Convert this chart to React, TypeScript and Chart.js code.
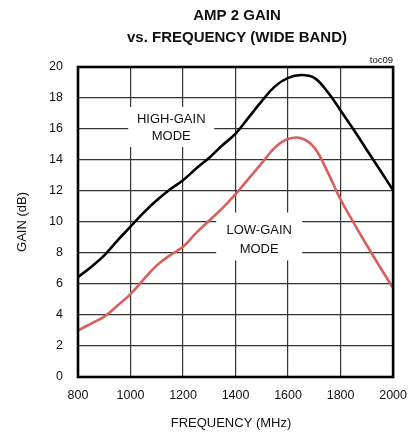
import React, { useEffect, useRef } from "react";
import { Chart, registerables } from "chart.js";

Chart.register(...registerables);

const freqMHz = [800, 850, 900, 950, 1000, 1050, 1100, 1150, 1200, 1250, 1300, 1350, 1400, 1450, 1500, 1550, 1600, 1650, 1700, 1750, 1800, 1850, 1900, 1950, 2000];
const highGainDb = [6.45, 7.1, 7.85, 8.8, 9.7, 10.6, 11.4, 12.1, 12.7, 13.45, 14.15, 14.95, 15.7, 16.75, 17.8, 18.75, 19.3, 19.48, 19.3, 18.4, 17.2, 15.95, 14.65, 13.35, 12.05];
const lowGainDb = [3.0, 3.45, 3.9, 4.6, 5.35, 6.3, 7.2, 7.85, 8.4, 9.3, 10.1, 10.9, 11.8, 12.8, 13.8, 14.8, 15.35, 15.4, 14.8, 13.25, 11.45, 9.95, 8.5, 7.1, 5.75];
const xTicks = [800, 1000, 1200, 1400, 1600, 1800, 2000];
const yTicks = [0, 2, 4, 6, 8, 10, 12, 14, 16, 18, 20];

const titleLines = ["AMP 2 GAIN", "vs. FREQUENCY (WIDE BAND)"];
const noteText = "toc09";
const highLabel = ["HIGH-GAIN", "MODE"];
const lowLabel = ["LOW-GAIN", "MODE"];
const xTitle = "FREQUENCY (MHz)";
const yTitle = "GAIN (dB)";

const FONT = "'Liberation Sans', Arial, sans-serif";

export default function App() {
  const ref = useRef<HTMLCanvasElement | null>(null);

  useEffect(() => {
    const canvas = ref.current;
    if (!canvas) return;

    const decor = {
      id: "decor",
      beforeDatasetsDraw(chart: any) {
        const { ctx, scales } = chart;
        const x = scales.x;
        const y = scales.y;
        ctx.save();
        ctx.fillStyle = "#ffffff";
        const hx = x.getPixelForValue(1155);
        const hy1 = y.getPixelForValue(16.65);
        const hy2 = y.getPixelForValue(15.55);
        ctx.fillRect(hx - 43, hy1 - 12, 86, hy2 - hy1 + 23);
        const lx = x.getPixelForValue(1490);
        const ly1 = y.getPixelForValue(9.45);
        const ly2 = y.getPixelForValue(8.23);
        ctx.fillRect(lx - 43, ly1 - 18, 86, ly2 - ly1 + 29);
        ctx.restore();
      },
      afterDraw(chart: any) {
        const { ctx, chartArea, scales } = chart;
        const x = scales.x;
        const y = scales.y;
        ctx.save();
        ctx.strokeStyle = "#000";
        ctx.lineWidth = 2.6;
        ctx.strokeRect(chartArea.left, chartArea.top, chartArea.right - chartArea.left, chartArea.bottom - chartArea.top);
        ctx.fillStyle = "#111";
        ctx.textAlign = "center";
        ctx.textBaseline = "middle";
        ctx.font = `bold 15px ${FONT}`;
        ctx.fillText(titleLines[0], 237, 16);
        ctx.fillText(titleLines[1], 237, 38);
        ctx.font = `9.5px ${FONT}`;
        ctx.textAlign = "right";
        ctx.fillText(noteText, chartArea.right, 60);
        ctx.textAlign = "center";
        ctx.font = `13px ${FONT}`;
        const hx = x.getPixelForValue(1155);
        ctx.fillText(highLabel[0], hx, y.getPixelForValue(16.65));
        ctx.fillText(highLabel[1], hx, y.getPixelForValue(15.55));
        const lx = x.getPixelForValue(1490);
        ctx.fillText(lowLabel[0], lx, y.getPixelForValue(9.45));
        ctx.fillText(lowLabel[1], lx, y.getPixelForValue(8.23));
        ctx.font = `13px ${FONT}`;
        ctx.fillText(xTitle, 231, 423);
        ctx.save();
        ctx.translate(22, (chartArea.top + chartArea.bottom) / 2);
        ctx.rotate(-Math.PI / 2);
        ctx.fillText(yTitle, 0, 0);
        ctx.restore();
        ctx.restore();
      },
    };

    const chart = new Chart(canvas, {
      type: "line",
      data: {
        labels: freqMHz,
        datasets: [
          {
            label: "High-gain mode",
            data: freqMHz.map((f, i) => ({ x: f, y: highGainDb[i] })),
            borderColor: "#000000",
            borderWidth: 2.6,
            pointRadius: 0,
            tension: 0.4,
            fill: false,
          },
          {
            label: "Low-gain mode",
            data: freqMHz.map((f, i) => ({ x: f, y: lowGainDb[i] })),
            borderColor: "#d8605a",
            borderWidth: 2.6,
            pointRadius: 0,
            tension: 0.4,
            fill: false,
          },
        ],
      },
      options: {
        responsive: false,
        animation: false,
        devicePixelRatio: 1,
        layout: { padding: { top: 67, right: 24, left: 0, bottom: 0 } },
        plugins: {
          legend: { display: false },
          title: { display: false },
          tooltip: { enabled: false },
        },
        scales: {
          x: {
            type: "linear",
            min: 800,
            max: 2000,
            afterFit: (s: any) => { s.height = 60; },
            afterBuildTicks: (s: any) => { s.ticks = xTicks.map((v) => ({ value: v })); },
            grid: { color: "#333", lineWidth: 1.2, drawTicks: false },
            border: { display: false },
            ticks: {
              padding: 11,
              color: "#111",
              font: { family: FONT, size: 12.5 },
              maxRotation: 0,
              callback: (v: any) => String(v),
            },
          },
          y: {
            type: "linear",
            min: 0,
            max: 20,
            afterFit: (s: any) => { s.width = 78; },
            afterBuildTicks: (s: any) => { s.ticks = yTicks.map((v) => ({ value: v })); },
            grid: { color: "#333", lineWidth: 1.2, drawTicks: false },
            border: { display: false },
            ticks: { padding: 15, color: "#111", font: { family: FONT, size: 12.5 }, callback: (v: any) => String(v) },
          },
        },
      },
      plugins: [decor],
    } as any);

    return () => chart.destroy();
  }, []);

  return (
    <div style={{ position: "fixed", left: 0, top: 0, width: 418, height: 437, background: "#fff" }}>
      <canvas ref={ref} width={418} height={437} style={{ width: 418, height: 437 }} />
    </div>
  );
}
